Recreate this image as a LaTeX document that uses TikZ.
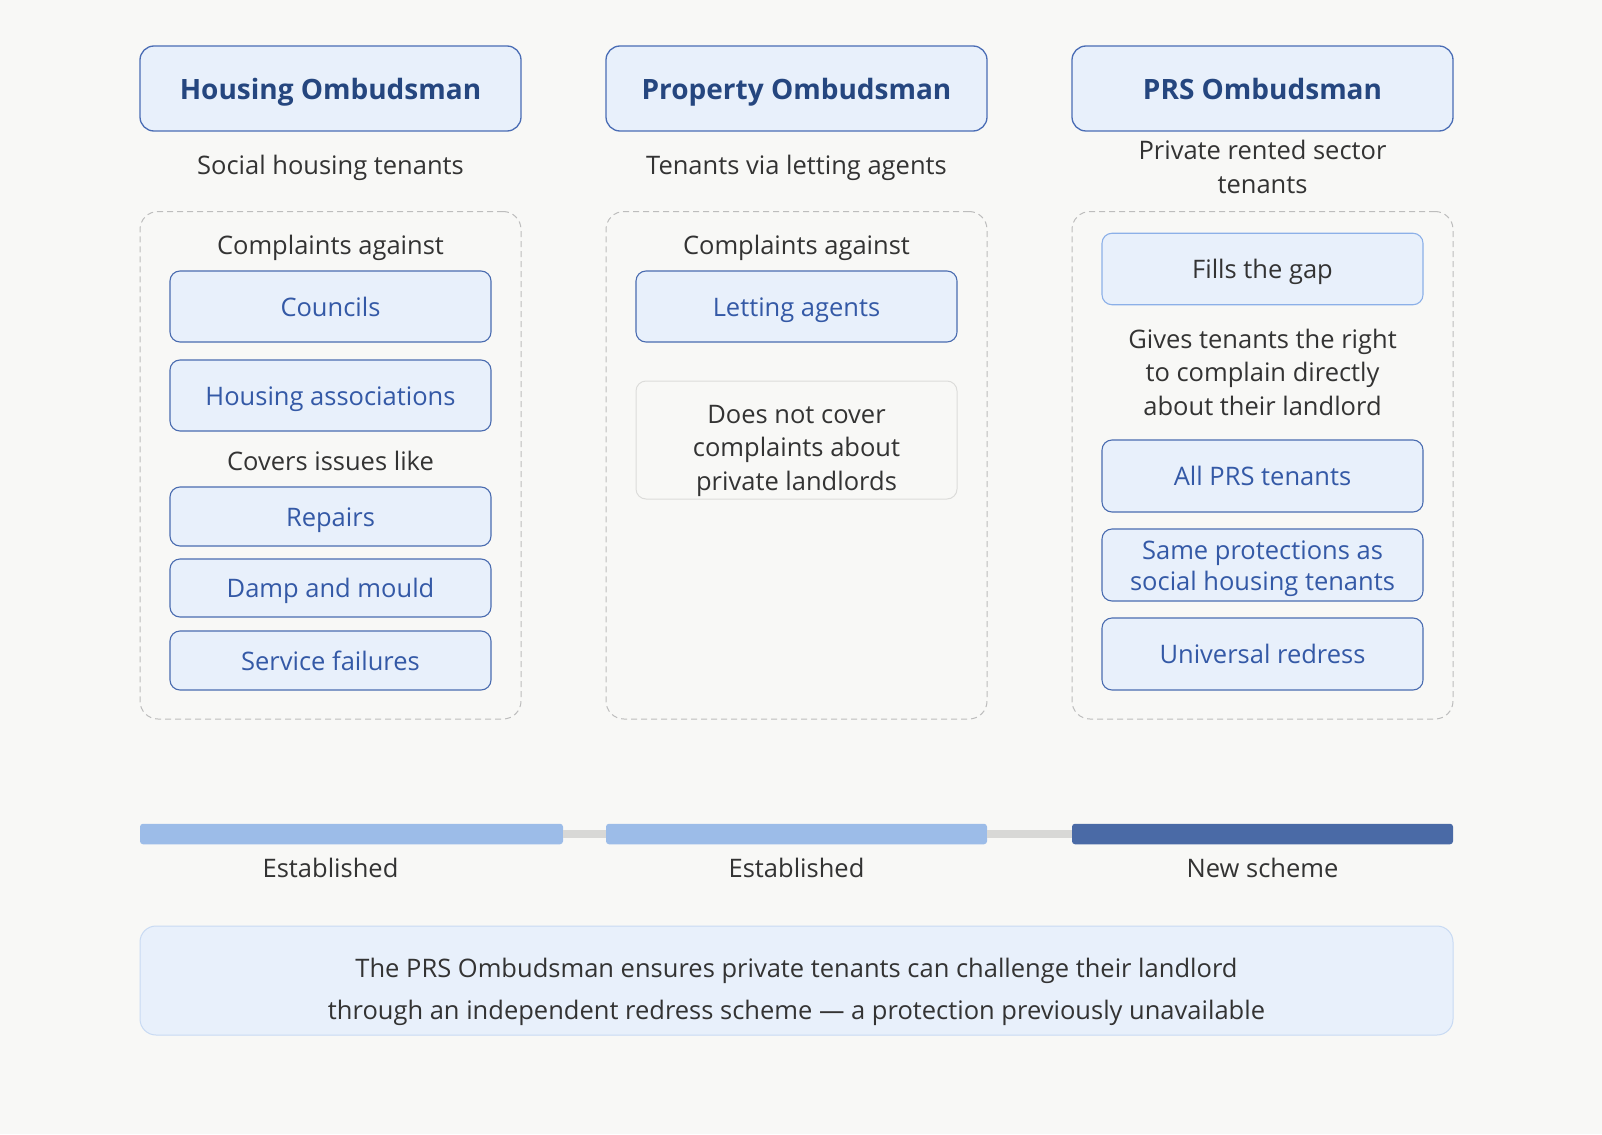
\documentclass[tikz,border=0pt]{standalone}
\usepackage{fontspec}
\setmainfont{Open Sans}
\definecolor{bg}{HTML}{F8F8F6}
\definecolor{boxfill}{HTML}{E8F0FB}
\definecolor{titleborder}{HTML}{4A6DB5}
\definecolor{titletext}{HTML}{25467F}
\definecolor{itemborder}{HTML}{4A6CB0}
\definecolor{itemtext}{HTML}{3459A6}
\definecolor{softborder}{HTML}{8CB0E8}
\definecolor{dashgray}{HTML}{BDBDBD}
\definecolor{notegray}{HTML}{DCDCDA}
\definecolor{bodytext}{HTML}{333333}
\definecolor{barlight}{HTML}{9CBCE8}
\definecolor{bardark}{HTML}{4A6AA6}
\definecolor{linkgray}{HTML}{D8D8D6}
\definecolor{bottomborder}{HTML}{C8DAF3}
\begin{document}
\begin{tikzpicture}[x=1pt,y=-1pt,
  titlebox/.style={draw=titleborder, fill=boxfill, rounded corners=14pt, line width=1.3pt,
    minimum width=381pt, minimum height=85pt, text=titletext,
    text height=21.3pt, text depth=0pt,
    font=\fontsize{28}{34}\selectfont\bfseries},
  itemframe/.style={draw=itemborder, fill=boxfill, rounded corners=10pt, line width=1.1pt,
    minimum width=321pt},
  itembox/.style={itemframe, text=itemtext,
    text height=19.4pt, text depth=0pt,
    font=\fontsize{25.5}{31}\selectfont},
  itemtextml/.style={text=itemtext, align=center, font=\fontsize{25.5}{31}\selectfont},
  softbox/.style={itembox, draw=softborder, text=bodytext},
  notebox/.style={draw=notegray, fill=bg, rounded corners=10pt, line width=1pt,
    minimum width=321pt, minimum height=118pt},
  dashbox/.style={draw=dashgray, dash pattern=on 6pt off 4pt, rounded corners=18pt,
    line width=1pt, minimum width=381pt, minimum height=507.5pt},
  bodylabel/.style={text=bodytext, align=center, font=\fontsize{25.5}{33.5}\selectfont},
  onelabel/.style={text=bodytext, text height=19.4pt, text depth=0pt,
    font=\fontsize{25.5}{33.5}\selectfont},
  barbox/.style={rounded corners=3pt, minimum height=20.5pt, inner sep=0pt},
]
\useasboundingbox[fill=bg] (0,0) rectangle (1602,1134);

% Column 1
\node[titlebox] (t1) at (330.5,88.5) {Housing Ombudsman};
\node[onelabel] (s1) at (330.5,164.5) {Social housing tenants};
\node[dashbox] (d1) at (330.5,465.25) {};
\node[onelabel] (ca1) at (330.5,245) {Complaints against};
\node[itembox, minimum height=71pt] (councils) at (330.5,306.5) {Councils};
\node[itembox, minimum height=71pt] (ha) at (330.5,395.5) {Housing associations};
\node[onelabel] (cil) at (330.5,461) {Covers issues like};
\node[itembox, minimum height=59pt] (repairs) at (330.5,516.5) {Repairs};
\node[itembox, minimum height=58pt] (damp) at (330.5,588) {Damp and mould};
\node[itembox, minimum height=59pt] (service) at (330.5,660.5) {Service failures};

% Column 2
\node[titlebox] (t2) at (796.5,88.5) {Property Ombudsman};
\node[onelabel] (s2) at (796.5,164.5) {Tenants via letting agents};
\node[dashbox] (d2) at (796.5,465.25) {};
\node[onelabel] (ca2) at (796.5,245) {Complaints against};
\node[itembox, minimum height=71pt] (letting) at (796.5,306.5) {Letting agents};
\node[notebox] (note) at (796.5,440) {};
\node[bodylabel] (notetext) at (796.5,450.5) {Does not cover\\complaints about\\private landlords};

% Column 3
\node[titlebox] (t3) at (1262.5,88.5) {PRS Ombudsman};
\node[bodylabel] (s3) at (1262.5,167) {Private rented sector\\tenants};
\node[dashbox] (d3) at (1262.5,465.25) {};
\node[softbox, minimum height=71.5pt] (gap) at (1262.5,269) {Fills the gap};
\node[bodylabel] (gives) at (1262.5,372) {Gives tenants the right\\to complain directly\\about their landlord};
\node[itembox, minimum height=72pt] (allprs) at (1262.5,476) {All PRS tenants};
\node[itemframe, minimum height=72pt] (same) at (1262.5,565) {};
\node[itemtextml] (sametext) at (1262.5,569) {Same protections as\\social housing tenants};
\node[itembox, minimum height=72pt] (universal) at (1262.5,654) {Universal redress};

% Timeline bars
\node[barbox, fill=barlight, minimum width=423pt] (b1) at (351.5,834) {};
\node[barbox, fill=barlight, minimum width=381pt] (b2) at (796.5,834) {};
\node[barbox, fill=bardark, minimum width=381pt] (b3) at (1262.5,834) {};
\draw[linkgray, line width=8pt] (b1.east) -- (b2.west);
\draw[linkgray, line width=8pt] (b2.east) -- (b3.west);
\node[onelabel] (e1) at (330.5,867.5) {Established};
\node[onelabel] (e2) at (796.5,867.5) {Established};
\node[onelabel] (e3) at (1262.5,867.5) {New scheme};

% Bottom summary
\node[draw=bottomborder, fill=boxfill, rounded corners=16pt, line width=1pt,
  minimum width=1313pt, minimum height=109pt] (summary) at (796.5,980.5) {};
\node[text=bodytext, align=center, font=\fontsize{25.5}{42}\selectfont] (summarytext)
  at (796.5,991.5)
  {The PRS Ombudsman ensures private tenants can challenge their landlord\\through an independent redress scheme — a protection previously unavailable};
\end{tikzpicture}
\end{document}
